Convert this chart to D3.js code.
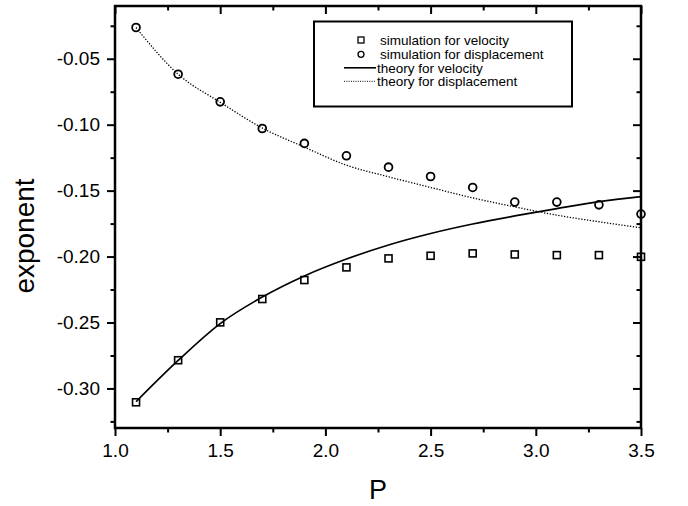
<!DOCTYPE html>
<html>
<head>
<meta charset="utf-8">
<script src="https://cdn.jsdelivr.net/npm/d3@7"></script>
<style>
html,body{margin:0;padding:0;background:#fff;}
svg{display:block;}
text{font-family:"Liberation Sans",Arial,Helvetica,sans-serif;fill:#000;}
</style>
</head>
<body>
<svg id="chart" width="688" height="506"></svg>
<script>
// ---- data ----
const pValues = [1.1, 1.3, 1.5, 1.7, 1.9, 2.1, 2.3, 2.5, 2.7, 2.9, 3.1, 3.3, 3.5];
const simVelocity = [-0.3105, -0.2786, -0.2499, -0.2322, -0.2178, -0.2082, -0.2014, -0.1994, -0.1976, -0.1984, -0.1989, -0.1989, -0.2002];
const simDisplacement = [-0.0263, -0.0617, -0.0827, -0.1029, -0.1142, -0.1236, -0.1322, -0.1393, -0.1476, -0.1587, -0.1587, -0.1608, -0.1678];
const theoryVelocity = [-0.3101, -0.2788, -0.2508, -0.2307, -0.2147, -0.2019, -0.1912, -0.1825, -0.1753, -0.1692, -0.1636, -0.1584, -0.1546];
const theoryDisplacement = [-0.0263, -0.0617, -0.0830, -0.1025, -0.1170, -0.1307, -0.1395, -0.1476, -0.1555, -0.1623, -0.1686, -0.1736, -0.1782];
const xMajorTicks = [1.0, 1.5, 2.0, 2.5, 3.0, 3.5];
const xMinorTicks = [1.25, 1.75, 2.25, 2.75, 3.25];
const yMajorTicks = [-0.30, -0.25, -0.20, -0.15, -0.10, -0.05];
const yMinorTicks = [-0.325, -0.275, -0.225, -0.175, -0.125, -0.075, -0.025];
const legendLabels = ["simulation for velocity", "simulation for displacement", "theory for velocity", "theory for displacement"];
const xTitle = "P";
const yTitle = "exponent";

// ---- layout ----
const L = 115, R = 641, T = 6, B = 428;
const svg = d3.select("#chart");
const x = d3.scaleLinear().domain([1.0, 3.5]).range([L, R]);
const y = d3.scaleLinear().domain([-0.33, -0.01]).range([B, T]);
const fmtY = v => d3.format(".2f")(v).replace("\u2212", "-");

const axisStyle = g => {
  g.select(".domain").remove();
  g.selectAll(".tick line").attr("stroke", "#000").attr("stroke-width", 2);
  g.selectAll(".tick text").style("font-size", "19px").style("font-family", "'Liberation Sans',Arial,sans-serif");
};

// bottom
svg.append("g").attr("transform", `translate(0,${B})`)
  .call(d3.axisBottom(x).tickValues(xMajorTicks).tickFormat(d3.format(".1f")).tickSize(8).tickPadding(8))
  .call(axisStyle);
svg.append("g").attr("transform", `translate(0,${B})`)
  .call(d3.axisBottom(x).tickValues(xMinorTicks).tickFormat("").tickSize(4.5))
  .call(axisStyle);
// top (inward)
svg.append("g").attr("transform", `translate(0,${T})`)
  .call(d3.axisTop(x).tickValues(xMajorTicks).tickFormat("").tickSize(-8))
  .call(axisStyle);
svg.append("g").attr("transform", `translate(0,${T})`)
  .call(d3.axisTop(x).tickValues(xMinorTicks).tickFormat("").tickSize(-4.5))
  .call(axisStyle);
// left
svg.append("g").attr("transform", `translate(${L},0)`)
  .call(d3.axisLeft(y).tickValues(yMajorTicks).tickFormat(fmtY).tickSize(8).tickPadding(7))
  .call(axisStyle);
svg.append("g").attr("transform", `translate(${L},0)`)
  .call(d3.axisLeft(y).tickValues(yMinorTicks).tickFormat("").tickSize(4.5))
  .call(axisStyle);
// right (inward)
svg.append("g").attr("transform", `translate(${R},0)`)
  .call(d3.axisRight(y).tickValues(yMajorTicks).tickFormat("").tickSize(-8))
  .call(axisStyle);
svg.append("g").attr("transform", `translate(${R},0)`)
  .call(d3.axisRight(y).tickValues(yMinorTicks).tickFormat("").tickSize(-4.5))
  .call(axisStyle);

// frame
svg.append("rect").attr("x", L).attr("y", T).attr("width", R - L).attr("height", B - T)
  .attr("fill", "none").attr("stroke", "#000").attr("stroke-width", 2.5);

// axis titles
svg.append("text").attr("x", (L + R) / 2).attr("y", 499).attr("text-anchor", "middle")
  .style("font-size", "27px").text(xTitle);
svg.append("text").attr("transform", "translate(34,236) rotate(-90)").attr("text-anchor", "middle")
  .style("font-size", "28px").text(yTitle);

// theory curves
const lineGen = d3.line().x(d => x(d[0])).y(d => y(d[1])).curve(d3.curveMonotoneX);
svg.append("path").datum(pValues.map((p, i) => [p, theoryVelocity[i]]))
  .attr("d", lineGen).attr("fill", "none").attr("stroke", "#000").attr("stroke-width", 1.7);
svg.append("path").datum(pValues.map((p, i) => [p, theoryDisplacement[i]]))
  .attr("d", lineGen).attr("fill", "none").attr("stroke", "#000").attr("stroke-width", 1.3)
  .attr("stroke-dasharray", "1.3,1.6");

// simulation markers
const sq = 7;
svg.append("g").selectAll("rect").data(pValues.map((p, i) => [p, simVelocity[i]])).join("rect")
  .attr("x", d => x(d[0]) - sq / 2).attr("y", d => y(d[1]) - sq / 2)
  .attr("width", sq).attr("height", sq)
  .attr("fill", "none").attr("stroke", "#000").attr("stroke-width", 1.6);
svg.append("g").selectAll("circle").data(pValues.map((p, i) => [p, simDisplacement[i]])).join("circle")
  .attr("cx", d => x(d[0])).attr("cy", d => y(d[1])).attr("r", 3.9)
  .attr("fill", "none").attr("stroke", "#000").attr("stroke-width", 1.8);

// legend
const lg = svg.append("g");
lg.append("rect").attr("x", 314).attr("y", 21.5).attr("width", 258).attr("height", 85)
  .attr("fill", "#fff").attr("stroke", "#000").attr("stroke-width", 2);
const rowY = [40, 54.3, 67.8, 81.3];
lg.append("rect").attr("x", 361 - 3).attr("y", rowY[0] - 3).attr("width", 6).attr("height", 6)
  .attr("fill", "none").attr("stroke", "#000").attr("stroke-width", 1.3);
lg.append("circle").attr("cx", 361).attr("cy", rowY[1]).attr("r", 3)
  .attr("fill", "none").attr("stroke", "#000").attr("stroke-width", 1.3);
lg.append("line").attr("x1", 344).attr("x2", 376).attr("y1", rowY[2]).attr("y2", rowY[2])
  .attr("stroke", "#000").attr("stroke-width", 1.6);
lg.append("line").attr("x1", 344).attr("x2", 376).attr("y1", rowY[3]).attr("y2", rowY[3])
  .attr("stroke", "#000").attr("stroke-width", 1).attr("stroke-dasharray", "1,1.3");
const textX = [380, 380, 377, 377];
legendLabels.forEach((t, i) => {
  lg.append("text").attr("x", textX[i]).attr("y", rowY[i]).attr("dy", "0.35em")
    .style("font-size", "13.5px").text(t);
});
</script>
</body>
</html>
